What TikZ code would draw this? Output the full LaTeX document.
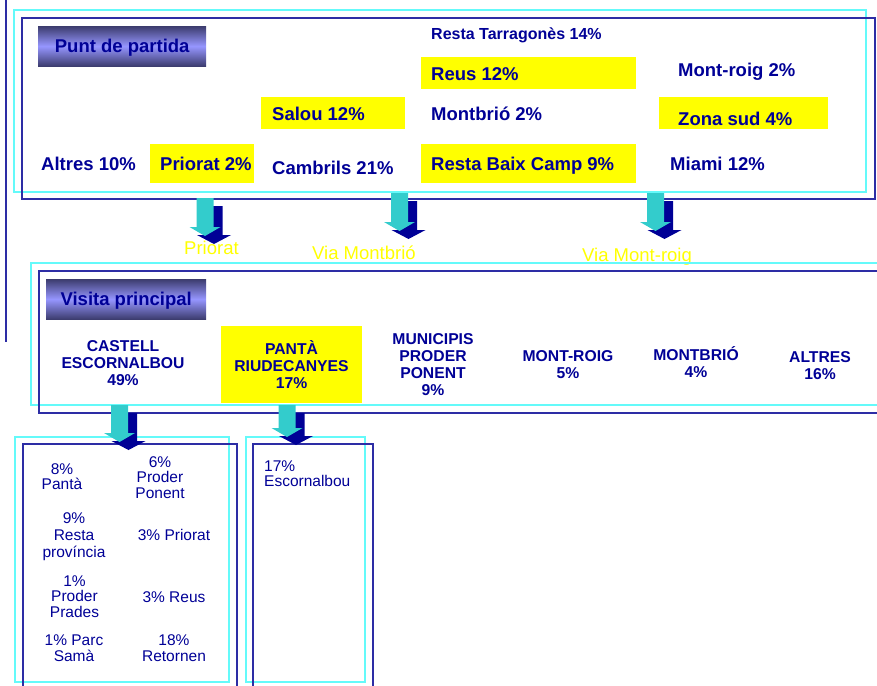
\documentclass[tikz,border=0pt]{standalone}
\usepackage{fontspec}
\setmainfont{Liberation Sans}
\usepackage{tikz}
\usetikzlibrary{positioning}

\definecolor{navytext}{RGB}{0,0,150}
\definecolor{frameblue}{RGB}{45,45,165}
\definecolor{framecyan}{RGB}{100,250,250}
\definecolor{arrowcyan}{RGB}{51,204,204}
\definecolor{arrownavy}{RGB}{0,0,150}
\definecolor{titledark}{RGB}{60,60,110}
\definecolor{titlelight}{RGB}{150,150,255}
\definecolor{hilite}{RGB}{255,255,0}

\tikzset{
	cyanframe/.style={draw=framecyan, line width=1.6pt},
	blueframe/.style={draw=frameblue, line width=1.3pt},
	titlebox/.style={anchor=north west, inner sep=0pt, minimum width=#1, minimum height=40pt,
		top color=titledark, bottom color=titledark, middle color=titlelight,
		text=navytext, font=\bfseries\fontsize{18.5}{20}\selectfont, text height=13.3pt, text depth=0pt},
	hibox/.style={fill=hilite, anchor=north west, inner sep=0pt},
	origin/.style={text=navytext, inner sep=0pt, anchor=base west, font=\bfseries\fontsize{18.5}{20}\selectfont},
	route/.style={text=hilite, inner sep=0pt, anchor=base west, font=\fontsize{18.5}{20}\selectfont},
	site/.style={text=navytext, inner sep=0pt, align=center, font=\bfseries\fontsize{15.7}{17}\selectfont},
	share/.style={text=navytext, inner sep=0pt, align=center, font=\fontsize{15.5}{15.5}\selectfont}
}

% double block arrow: navy shadow behind, cyan in front
\newcommand\flowdrop[2]{%
	\begin{scope}[shift={(#1)}]
		\fill[arrownavy, shift={(9,8)}] (-8.5,0) -- (8.5,0) -- (8.5,#2) -- (17,#2) -- (0,#2+9) -- (-17,#2) -- (-8.5,#2) -- cycle;
		\fill[arrowcyan] (-8.5,0) -- (8.5,0) -- (8.5,#2) -- (15.5,#2) -- (0,#2+9) -- (-15.5,#2) -- (-8.5,#2) -- cycle;
	\end{scope}}

\begin{document}
\begin{tikzpicture}[x=1pt, y=-1pt]
	\useasboundingbox (0,0) rectangle (877,685);
	\clip (0,0) rectangle (877,685);

	\draw[blueframe] (6,0) -- (6,342);

	% punt de partida
	\draw[cyanframe] (14,10) rectangle (866,192);
	\draw[blueframe] (22,18) rectangle (875,199);
	\node[titlebox=168pt] (punt) at (38,26) {Punt de partida};

	\node[hibox, minimum width=215pt, minimum height=32pt] (reusbox) at (421,57) {};
	\node[hibox, minimum width=144pt, minimum height=32pt] (saloubox) at (261,97) {};
	\node[hibox, minimum width=169pt, minimum height=32pt] (zonabox) at (659,97) {};
	\node[hibox, minimum width=104pt, minimum height=39pt] (prioratbox) at (150,144) {};
	\node[hibox, minimum width=215pt, minimum height=39pt] (baixbox) at (421,144) {};

	\node[origin, font=\bfseries\fontsize{16}{18}\selectfont] (tarragones) at (431,39.3) {Resta Tarragonès 14\%};
	\node[origin] (reus) at (431,80) {Reus 12\%};
	\node[origin] (montroig) at (678,76.7) {Mont-roig 2\%};
	\node[origin] (salou) at (272,120) {Salou 12\%};
	\node[origin] (montbrio) at (431,120) {Montbrió 2\%};
	\node[origin] (zona) at (678,125) {Zona sud 4\%};
	\node[origin] (altres) at (41,170) {Altres 10\%};
	\node[origin] (priorat) at (160,170) {Priorat 2\%};
	\node[origin] (cambrils) at (272,174) {Cambrils 21\%};
	\node[origin] (baixcamp) at (431,170.7) {Resta Baix Camp 9\%};
	\node[origin] (miami) at (670,170.7) {Miami 12\%};

	\node[route] (viapriorat) at (184,254) {Priorat};
	\node[route] (viamontbrio) at (312,259) {Via Montbrió};
	\node[route] (viamontroig) at (582,261) {Via Mont-roig};

	% visita principal
	\draw[cyanframe] (31,263) rectangle (900,405);
	\draw[blueframe] (39,271) rectangle (900,413);
	\node[titlebox=160pt] (visita) at (46,279) {Visita principal};

	\node[site] (castell) at (123,363) {CASTELL\\ESCORNALBOU\\49\%};
	\node[site, fill=hilite, minimum width=141pt, minimum height=77pt] (panta) at (291.5,364.5) {PANTÀ\\RIUDECANYES\\17\%};
	\node[site] (municipis) at (433,364.5) {MUNICIPIS\\PRODER\\PONENT\\9\%};
	\node[site] (vmontroig) at (568,364.5) {MONT-ROIG\\5\%};
	\node[site] (vmontbrio) at (696,362) {MONTBRIÓ\\4\%};
	\node[site] (valtres) at (820,365.5) {ALTRES\\16\%};

	% destinacions
	\draw[cyanframe] (15,437) rectangle (229,682);
	\draw[blueframe] (23,444) rectangle (237,700);
	\draw[cyanframe] (246,437) rectangle (365,682);
	\draw[blueframe] (253,444) rectangle (373,700);

	\node[share] (dpanta) at (62,476.7) {8\%\\Pantà};
	\node[share] (dponent) at (160,477.5) {6\%\\Proder\\Ponent};
	\node[share, font=\fontsize{15.5}{17}\selectfont] (dprovincia) at (74,537) {9\%\\Resta\\província};
	\node[share] (dpriorat) at (174,535) {3\% Priorat};
	\node[share] (dprades) at (74.5,596.3) {1\%\\Proder\\Prades};
	\node[share] (dreus) at (174,596.7) {3\% Reus};
	\node[share] (dsama) at (74,648.4) {1\% Parc\\Samà};
	\node[share] (dretornen) at (174,648.4) {18\%\\Retornen};
	\node[share, align=left, anchor=west] (descornalbou) at (264,473.7) {17\%\\Escornalbou};

	\coordinate (dropA) at (205,198);
	\coordinate (dropB) at (399.5,193);
	\coordinate (dropC) at (655.5,193);
	\coordinate (dropD) at (119.5,405);
	\coordinate (dropE) at (287,405);
	\flowdrop{dropA}{29}
	\flowdrop{dropB}{29}
	\flowdrop{dropC}{29}
	\flowdrop{dropD}{28}
	\flowdrop{dropE}{23}
\end{tikzpicture}
\end{document}
